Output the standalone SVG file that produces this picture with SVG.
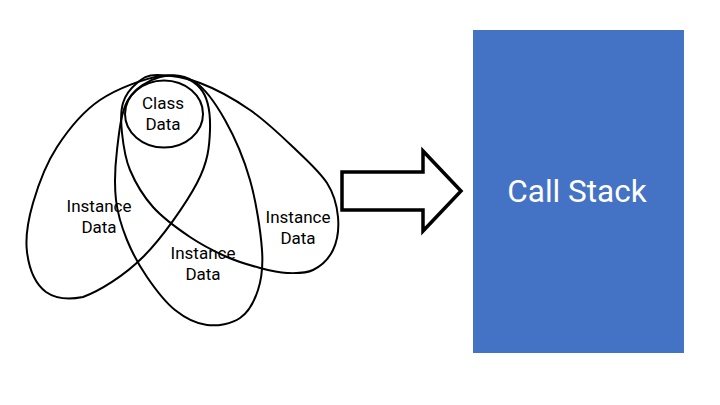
<svg xmlns="http://www.w3.org/2000/svg" width="720" height="405" viewBox="0 0 720 405">
<style>
.sh{fill:none;stroke:#000;stroke-width:2}
.t{font-family:Roboto,"Noto Sans",sans-serif;font-size:17px;fill:#000;text-anchor:middle}
.big{font-family:Roboto,"Noto Sans",sans-serif;font-size:31.5px;fill:#fff;text-anchor:middle}
</style>
<rect width="720" height="405" fill="#fff"/>
<g id="instance-left">
<path class="sh" d="M162,76 C145.3,78 117.5,88.2 100,100 C82.5,111.8 68.2,129.8 57,147 C45.8,164.2 38,185.8 33,203 C28,220.2 25,236 27,252 C29,268 34,283 46,292 C56,299 68,300 83,297 C99.3,291 124,276 143,257 C162,238 185.8,204.2 197,183 C208.2,161.8 209.5,145.8 210,130 C210.5,114.2 208,97 200,88 C192,79 178.7,74 162,76 Z"/>
<text class="t" x="99" y="212">Instance<tspan x="99" dy="21">Data</tspan></text>
</g>
<g id="instance-middle">
<path class="sh" d="M160,77 C148.8,80 135.2,87.8 128,100 C120.8,112.2 119,133.3 117,150 C115,166.7 114.3,185 116,200 C117.7,215 121.8,227.2 127,240 C132.2,252.8 139,265.3 147,277 C155,288.7 165,302 175,310 C185,318 196.2,323.7 207,325 C217.8,326.3 231.5,323.8 240,318 C248.5,312.2 254.3,301.3 258,290 C261.7,278.7 263.3,268.3 262,250 C260.7,231.7 256.2,201.7 250,180 C243.8,158.3 234.2,136.3 225,120 C215.8,103.7 205.8,89.2 195,82 C184.2,74.8 171.2,74 160,77 Z"/>
<text class="t" x="203" y="259">Instance<tspan x="203" dy="20.5">Data</tspan></text>
</g>
<g id="instance-right">
<path class="sh" d="M157,75 C167.5,75 184.5,77.2 200,83 C215.5,88.8 234.5,99.3 250,110 C265.5,120.7 280.2,134.8 293,147 C305.8,159.2 319.5,171.3 327,183 C334.5,194.7 337,205.8 338,217 C339,228.2 337.2,241.2 333,250 C328.8,258.8 320.7,266.2 313,270 C305.3,273.8 295.8,273.3 287,273 C278.2,272.7 270,270.7 260,268 C250,265.3 238.7,262.2 227,257 C215.3,251.8 202.3,245.3 190,237 C177.7,228.7 163,218.2 153,207 C143,195.8 135.2,182.3 130,170 C124.8,157.7 123.2,144.2 122,133 C120.8,121.8 120.5,111.3 123,103 C125.5,94.7 131.3,87.7 137,83 C142.7,78.3 146.5,75 157,75 Z"/>
<text class="t" x="298" y="223">Instance<tspan x="298" dy="20.5">Data</tspan></text>
</g>
<g id="class-data">
<ellipse class="sh" cx="164" cy="114" rx="39" ry="33.5"/>
<text class="t" x="163" y="109">Class<tspan x="163" dy="20.5">Data</tspan></text>
</g>
<g id="connectors">
<polygon points="342,172 423,172 423,151 461,191 423,231 423,210 342,210" fill="#fff" stroke="#000" stroke-width="3.5" stroke-linejoin="miter"/>
</g>
<g id="call-stack">
<rect x="473" y="30" width="211" height="323" fill="#4472C4"/>
<text class="big" x="577" y="202">Call Stack</text>
</g>
</svg>
